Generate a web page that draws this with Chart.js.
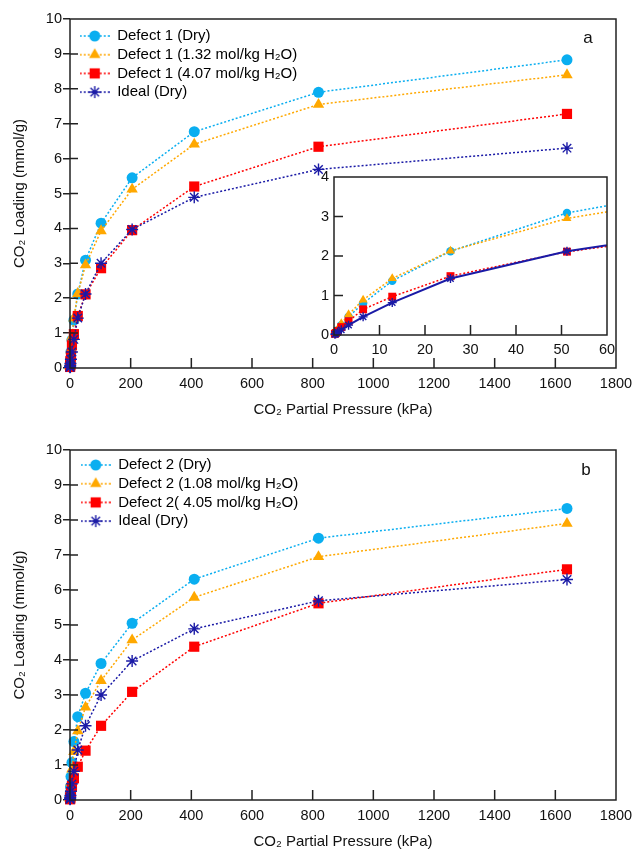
<!DOCTYPE html>
<html><head><meta charset="utf-8">
<script src="https://cdn.jsdelivr.net/npm/chart.js@4/dist/chart.umd.min.js"></script>
<style>
body{margin:0;background:#fff;width:635px;height:850px;position:relative;overflow:hidden}
canvas{position:absolute}
</style>
</head><body>
<canvas id="ca" width="635" height="420" style="left:0;top:0"></canvas>
<canvas id="cb" width="635" height="431" style="left:0;top:420px"></canvas>
<canvas id="ci" width="320" height="200" style="left:300px;top:160px"></canvas>
<script>
// ---------- data ----------
const pressure = [0.2, 0.4, 0.8, 1.6, 3.2, 6.4, 12.8, 25.6, 51.2, 102.4, 204.8, 409.6, 819.2, 1638.4];
const defect1Dry   = [0.03, 0.06, 0.12, 0.25, 0.46, 0.80, 1.37, 2.12, 3.09, 4.15, 5.45, 6.77, 7.90, 8.83];
const defect1W132  = [0.04, 0.07, 0.15, 0.29, 0.52, 0.89, 1.43, 2.13, 2.95, 3.93, 5.12, 6.41, 7.55, 8.40];
const defect1W407  = [0.03, 0.05, 0.10, 0.20, 0.35, 0.65, 0.97, 1.49, 2.11, 2.86, 3.95, 5.20, 6.34, 7.28];
const idealDry     = [0.02, 0.03, 0.07, 0.13, 0.25, 0.46, 0.82, 1.43, 2.12, 3.00, 3.97, 4.89, 5.69, 6.30];
const defect2Dry   = [0.05, 0.10, 0.20, 0.38, 0.67, 1.07, 1.67, 2.38, 3.05, 3.90, 5.05, 6.31, 7.48, 8.33];
const defect2W108  = [0.04, 0.07, 0.14, 0.27, 0.50, 0.88, 1.38, 1.97, 2.65, 3.41, 4.57, 5.79, 6.95, 7.90];
const defect2W405  = [0.02, 0.03, 0.06, 0.12, 0.22, 0.40, 0.62, 0.95, 1.41, 2.12, 3.09, 4.38, 5.62, 6.59];

const labelsA = ['Defect 1 (Dry)', 'Defect 1 (1.32 mol/kg H\u2082O)', 'Defect 1 (4.07 mol/kg H\u2082O)', 'Ideal (Dry)'];
const labelsB = ['Defect 2 (Dry)', 'Defect 2 (1.08 mol/kg H\u2082O)', 'Defect 2( 4.05 mol/kg H\u2082O)', 'Ideal (Dry)'];
const xTitle = 'CO\u2082 Partial Pressure (kPa)';
const yTitle = 'CO\u2082 Loading (mmol/g)';
const mainXMax = 1800, mainXStep = 200, mainYMax = 10, mainYStep = 1;
const insetXMax = 60, insetXStep = 10, insetYMax = 4, insetYStep = 1;

// ---------- styles ----------
const BLUE = '#0aaef0', ORANGE = '#ffa800', RED = '#ff0000', NAVY = '#1a1aa6';
const FONT = "'Liberation Sans', Arial, sans-serif";
Chart.defaults.font.family = FONT;
Chart.defaults.color = '#111';
const styles = [
  {color: BLUE, ps: 'circle', r: 5.5, ri: 4.2},
  {color: ORANGE, ps: 'triangle', r: 6.6, ri: 5.2},
  {color: RED, ps: 'rect', r: 7.2, ri: 5.6},
  {color: NAVY, ps: 'star', r: 6, ri: 4.5}
];
const plainNum = v => String(v);

function drawMarker(g, ps, x, y, r, color) {
  g.fillStyle = color; g.strokeStyle = color; g.lineWidth = 1.4;
  g.beginPath();
  if (ps === 'circle') { g.arc(x, y, r, 0, Math.PI * 2); g.fill(); }
  else if (ps === 'triangle') {
    g.moveTo(x, y - r); g.lineTo(x + 0.866 * r, y + 0.5 * r); g.lineTo(x - 0.866 * r, y + 0.5 * r); g.closePath(); g.fill();
  } else if (ps === 'rect') { const s = r * Math.SQRT1_2; g.rect(x - s, y - s, 2 * s, 2 * s); g.fill(); }
  else {
    const d = r * Math.SQRT1_2;
    g.moveTo(x - r, y); g.lineTo(x + r, y); g.moveTo(x, y - r); g.lineTo(x, y + r);
    g.moveTo(x - d, y - d); g.lineTo(x + d, y + d); g.moveTo(x - d, y + d); g.lineTo(x + d, y - d);
    g.stroke();
  }
}
function legendIcon(st) {
  const c = document.createElement('canvas'); c.width = 30; c.height = 16;
  const g = c.getContext('2d');
  g.strokeStyle = st.color; g.lineWidth = 1.5; g.setLineDash([2, 2]);
  g.beginPath(); g.moveTo(0, 8); g.lineTo(30, 8); g.stroke(); g.setLineDash([]);
  drawMarker(g, st.ps, 15, 8, st.r, st.color);
  return c;
}

function makeDatasets(seriesList, labels, inset) {
  return seriesList.map((vals, i) => {
    const st = styles[i];
    const solid = inset && i === 3;
    return {
      label: labels ? labels[i] : '',
      data: pressure.map((p, k) => ({x: p, y: vals[k]})),
      borderColor: st.color,
      backgroundColor: st.color,
      borderWidth: solid ? 2 : 1.5,
      borderDash: solid ? [] : [2, 2],
      pointStyle: st.ps,
      pointRadius: inset ? st.ri : st.r,
      pointBorderWidth: st.ps === 'star' ? 1.4 : 0,
      pointBorderColor: st.color,
      pointBackgroundColor: st.color,
      tension: 0,
      order: 4 - i,
      clip: inset ? {left: 6, bottom: 6, top: 0, right: 0} : false,
      _icon: st
    };
  });
}

const framePlugin = {
  id: 'frame',
  afterLayout(chart, args, o) {
    if (chart.legend && o.legendShift) {
      chart.legend.left = chart.chartArea.left + o.legendShift[0];
      chart.legend.top = chart.chartArea.top + o.legendShift[1];
    }
  },
  beforeDraw(chart, args, o) {
    if (o.fill) {
      const a = chart.chartArea, ctx = chart.ctx;
      ctx.save(); ctx.fillStyle = o.fill; ctx.fillRect(a.left, a.top, a.width, a.height); ctx.restore();
    }
  },
  afterDraw(chart, args, o) {
    const {ctx, chartArea: a, scales: {x, y}} = chart;
    ctx.save();
    ctx.strokeStyle = '#222'; ctx.lineWidth = 1.5;
    ctx.beginPath();
    x.ticks.forEach(t => {
      const px = x.getPixelForValue(t.value);
      if (px > a.left + 1 && px < a.right - 1) { ctx.moveTo(px, a.bottom); ctx.lineTo(px, a.bottom - o.xIn); }
    });
    y.ticks.forEach(t => {
      const py = y.getPixelForValue(t.value);
      if (py > a.top + 1 && py < a.bottom - 1) { ctx.moveTo(a.left, py); ctx.lineTo(a.left + o.yIn, py); }
    });
    ctx.stroke();
    ctx.strokeRect(a.left, a.top, a.width, a.height);
    if (o.label) {
      ctx.fillStyle = '#111'; ctx.font = '17px ' + FONT; ctx.textAlign = 'center'; ctx.textBaseline = 'middle';
      ctx.fillText(o.label, a.right + o.labelPos[0], a.top + o.labelPos[1]);
    }
    ctx.restore();
  }
};

function mainChart(id, seriesList, labels, opt) {
  return new Chart(document.getElementById(id), {
    type: 'line',
    data: {datasets: makeDatasets(seriesList, labels, false)},
    plugins: [framePlugin],
    options: {
      responsive: false, animation: false, devicePixelRatio: 1,
      layout: {padding: {top: opt.top, right: 19, left: 0, bottom: 0}},
      scales: {
        x: {
          type: 'linear', min: 0, max: mainXMax,
          afterFit: s => { s.height = opt.xh; s.paddingLeft = 0; s.paddingRight = 0; },
          grid: {display: false, drawTicks: false},
          border: {display: false},
          ticks: {stepSize: mainXStep, padding: 7, font: {size: 14.5}, color: '#111', maxRotation: 0, callback: plainNum},
          title: {display: true, text: xTitle, font: {size: 15}, color: '#111', padding: {top: 0, bottom: opt.tpb}}
        },
        y: {
          type: 'linear', min: 0, max: mainYMax,
          afterFit: s => { s.width = 70; s.paddingTop = 0; s.paddingBottom = 0; },
          grid: {display: true, drawOnChartArea: false, drawTicks: true, tickLength: 7, color: '#222', lineWidth: 1.5},
          border: {display: false},
          ticks: {stepSize: mainYStep, padding: 1, font: {size: 14.5}, color: '#111', callback: plainNum},
          title: {display: true, text: yTitle, font: {size: 15}, color: '#111', padding: {top: 11, bottom: 0}}
        }
      },
      plugins: {
        tooltip: {enabled: false},
        legend: {
          position: 'chartArea', align: 'start',
          labels: {
            usePointStyle: true, pointStyleWidth: 30, boxHeight: 15, padding: 3.7,
            font: {size: 15}, color: '#111',
            generateLabels: chart => chart.data.datasets.map((ds, i) => ({
              text: ds.label, pointStyle: legendIcon(ds._icon), fillStyle: ds.backgroundColor,
              strokeStyle: ds.borderColor, lineWidth: 0, hidden: false, datasetIndex: i
            }))
          }
        },
        frame: {xIn: 10, yIn: 8, label: opt.label, labelPos: opt.labelPos, legendShift: opt.legendShift}
      }
    }
  });
}

mainChart('ca', [defect1Dry, defect1W132, defect1W407, idealDry], labelsA,
  {top: 19, xh: 52, tpb: 1, label: 'a', labelPos: [-28, 19], legendShift: [6, 5.8]});
mainChart('cb', [defect2Dry, defect2W108, defect2W405, idealDry], labelsB,
  {top: 30, xh: 51, tpb: 0, label: 'b', labelPos: [-30, 20], legendShift: [7, 3.8]});

// inset
new Chart(document.getElementById('ci'), {
  type: 'line',
  data: {datasets: makeDatasets([defect1Dry, defect1W132, defect1W407, idealDry], null, true)},
  plugins: [framePlugin],
  options: {
    responsive: false, animation: false, devicePixelRatio: 1,
    layout: {padding: {top: 17, right: 13, left: 0, bottom: 0}},
    scales: {
      x: {
        type: 'linear', min: 0, max: insetXMax,
        afterFit: s => { s.height = 25; s.paddingLeft = 0; s.paddingRight = 0; },
        grid: {display: false, drawTicks: false}, border: {display: false},
        ticks: {stepSize: insetXStep, padding: 6, font: {size: 14.5}, color: '#111', maxRotation: 0, callback: plainNum}
      },
      y: {
        type: 'linear', min: 0, max: insetYMax,
        afterFit: s => { s.width = 34; s.paddingTop = 0; s.paddingBottom = 0; },
        grid: {display: false, drawTicks: false}, border: {display: false},
        ticks: {stepSize: insetYStep, padding: 5, font: {size: 14.5}, color: '#111', callback: plainNum}
      }
    },
    plugins: {
      tooltip: {enabled: false}, legend: {display: false},
      frame: {xIn: 10, yIn: 9, fill: '#fff'}
    }
  }
});
</script>
</body></html>
